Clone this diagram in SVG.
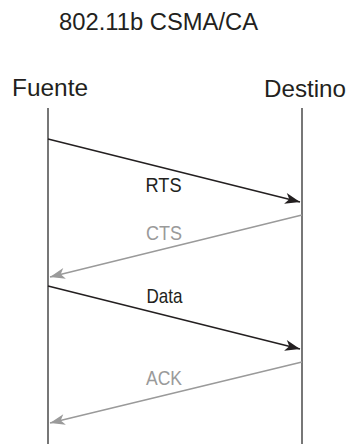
<svg xmlns="http://www.w3.org/2000/svg" width="348" height="444" viewBox="0 0 348 444">
<style>
text{font-family:"Liberation Sans",Arial,sans-serif;}
.t{font-size:23px;fill:#231f20;text-anchor:middle;}
.h{font-size:24px;fill:#231f20;}
.lb{font-size:21px;text-anchor:middle;}
.dk{fill:#231f20;}
.gr{fill:#9a9a9a;}
.life{stroke:#555;stroke-width:1.6;fill:none;}
.msg{stroke-width:1.5;fill:none;}
.mk{stroke:#231f20;marker-end:url(#ahd);}
.mg{stroke:#9a9a9a;marker-end:url(#ahg);}
</style>
<defs>
<marker id="ahd" markerUnits="userSpaceOnUse" viewBox="-16 -6 17 12" refX="0" refY="0" markerWidth="17" markerHeight="12" orient="auto">
<path d="M-15,-5.5 L0,0 L-15,5.5 L-11,0 Z" fill="#231f20"/>
</marker>
<marker id="ahg" markerUnits="userSpaceOnUse" viewBox="-16 -6 17 12" refX="0" refY="0" markerWidth="17" markerHeight="12" orient="auto">
<path d="M-15,-5.5 L0,0 L-15,5.5 L-11,0 Z" fill="#9a9a9a"/>
</marker>
</defs>
<text class="t" x="158.5" y="30" textLength="199" lengthAdjust="spacingAndGlyphs">802.11b CSMA/CA</text>
<g id="fuente">
<text class="h" x="12" y="96" textLength="76" lengthAdjust="spacingAndGlyphs">Fuente</text>
<line class="life" x1="48" y1="108" x2="48" y2="444"/>
</g>
<g id="destino">
<text class="h" x="264" y="96.5" textLength="82" lengthAdjust="spacingAndGlyphs">Destino</text>
<line class="life" x1="302" y1="108" x2="302" y2="444"/>
</g>
<g id="connectors">
<line class="msg mk" x1="48" y1="139" x2="300" y2="202"/>
<line class="msg mg" x1="302" y1="215" x2="50" y2="277"/>
<line class="msg mk" x1="48" y1="286" x2="300" y2="349"/>
<line class="msg mg" x1="302" y1="362" x2="50" y2="423"/>
</g>
<g id="labels">
<text class="lb dk" x="163.5" y="191.5" textLength="36" lengthAdjust="spacingAndGlyphs">RTS</text>
<text class="lb gr" x="164" y="240" textLength="36" lengthAdjust="spacingAndGlyphs">CTS</text>
<text class="lb dk" x="164.5" y="302.5" textLength="36" lengthAdjust="spacingAndGlyphs">Data</text>
<text class="lb gr" x="164" y="385" textLength="36" lengthAdjust="spacingAndGlyphs">ACK</text>
</g>
</svg>
